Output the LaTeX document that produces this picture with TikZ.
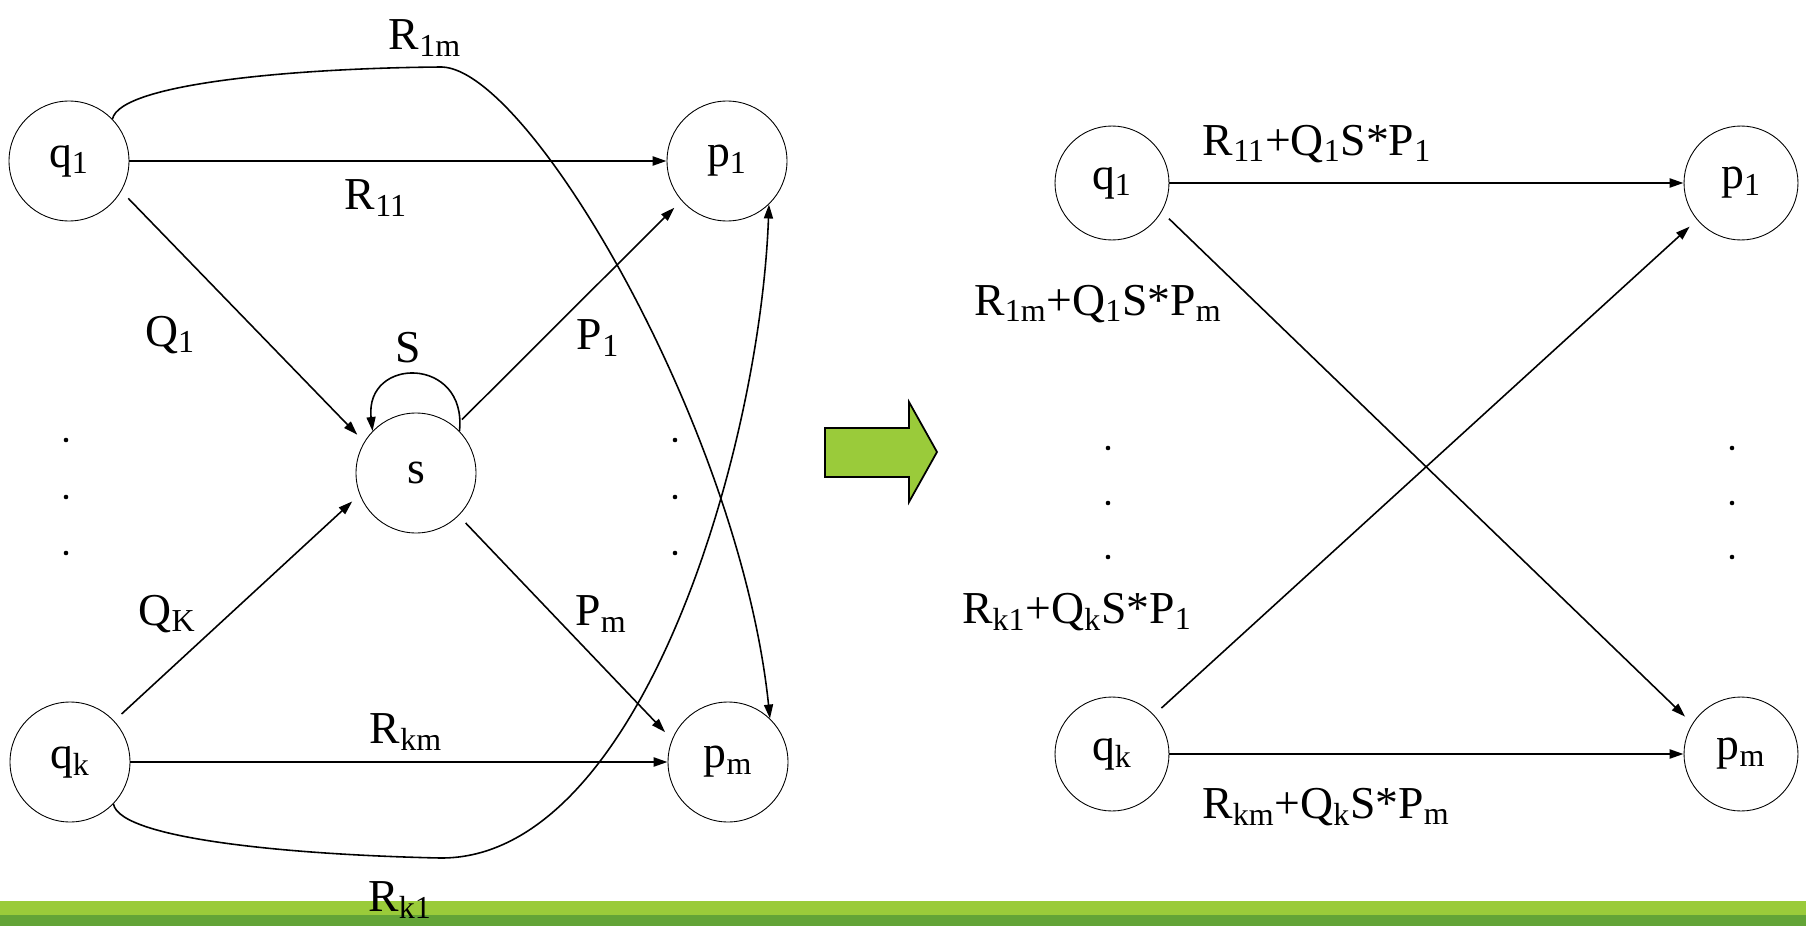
\documentclass[tikz,border=0pt]{standalone}
\usepackage{fontspec}
\setmainfont{Liberation Serif}
\usetikzlibrary{arrows.meta}
\definecolor{lime}{HTML}{9ACB3A}
\definecolor{moss}{HTML}{63A437}
\newcommand{\lblfont}{\fontsize{26}{30}\selectfont}
\newcommand{\subs}[1]{\textsubscript{#1}}
\tikzset{
  statenode/.style={draw, circle, line width=0.5pt, minimum size=2.4cm, inner sep=0pt, font=\lblfont},
  rstatenode/.style={statenode, minimum size=2.28cm},
  lbl/.style={font=\lblfont, inner sep=0pt},
  arr/.style={-{Triangle[length=2.8mm,width=1.8mm]}, line width=0.9pt},
  harr/.style={arr, line width=1.3pt},
  gap/.style={shorten <=0.2cm, shorten >=0.2cm}}

\begin{document}
\begin{tikzpicture}[x=0.02cm,y=-0.02cm]
  \useasboundingbox (0,0) rectangle (1806,926);
  % bottom band
  \fill[lime] (0,901) rectangle (1806,915);
  \fill[moss] (0,915) rectangle (1806,926);

  % left graph
  \node[statenode] (q1) at (69,161) {q\subs{1}};
  \node[statenode] (p1) at (727,161) {p\subs{1}};
  \node[statenode] (s)  at (416,473) {s};
  \node[statenode] (qk) at (70,762) {q\subs{k}};
  \node[statenode] (pm) at (728,762) {p\subs{m}};

  \draw[harr] (q1) -- (p1);
  \draw[harr] (qk) -- (pm);
  \draw[arr, gap] (q1.-30) -- (s.149);
  \draw[arr, gap] (qk.43) -- (s.-159);
  \draw[arr, gap] (s.50) -- (p1.-139);
  \draw[arr, gap] (s.-45) -- (pm.158);
  \draw[arr] (s.44) .. controls +(8,-75) and +(-8,-75) .. (s.136);
  \draw[arr] (q1.44) .. controls (120,83) and (300,68) .. (442,67)
                     .. controls (530,70) and (740,430) .. (pm.46);
  \draw[arr] (qk.-44) .. controls (120,840) and (300,855) .. (440,858)
                      .. controls (640,860) and (760,450) .. (p1.-46);

  \node[lbl] (r1m) at (425,38)  {R\subs{1m}};
  \node[lbl] (r11) at (376,198) {R\subs{11}};
  \node[lbl] (lq1) at (170,335) {Q\subs{1}};
  \node[lbl] (ls)  at (408,348) {S};
  \node[lbl] (lp1) at (598,338) {P\subs{1}};
  \node[lbl] (lqk) at (167,614) {Q\subs{K}};
  \node[lbl] (lpm) at (601,614) {P\subs{m}};
  \node[lbl] (rkm) at (406,732) {R\subs{km}};
  \node[lbl] (rk1) at (400,900) {R\subs{k1}};

  \foreach \x in {66,675}
    \foreach \y in {440,497,553}
      \fill (\x,\y) circle (1.3pt);

  % arrow between the graphs
  \draw[line width=1pt, fill=lime] (825,428) -- (909,428) -- (909,402) -- (937,452)
    -- (909,502) -- (909,477) -- (825,477) -- cycle;

  % right graph
  \node[rstatenode] (rq1) at (1112,183) {q\subs{1}};
  \node[rstatenode] (rp1) at (1741,183) {p\subs{1}};
  \node[rstatenode] (rqk) at (1112,754) {q\subs{k}};
  \node[rstatenode] (rpm) at (1741,754) {p\subs{m}};

  \draw[harr] (rq1) -- (rp1);
  \draw[harr] (rqk) -- (rpm);
  \draw[arr, gap] (rq1.-30) -- (rpm.148);
  \draw[arr, gap] (rqk.43) -- (rp1.-140);

  \node[lbl] (e11) at (1317,144) {R\subs{11}+Q\subs{1}S*P\subs{1}};
  \node[lbl] (e1m) at (1098,304) {R\subs{1m}+Q\subs{1}S*P\subs{m}};
  \node[lbl] (ek1) at (1077,612) {R\subs{k1}+Q\subs{k}S*P\subs{1}};
  \node[lbl] (ekm) at (1326,807) {R\subs{km}+Q\subs{k}S*P\subs{m}};

  \foreach \x in {1108,1732}
    \foreach \y in {448,503,557}
      \fill (\x,\y) circle (1.3pt);
\end{tikzpicture}
\end{document}
